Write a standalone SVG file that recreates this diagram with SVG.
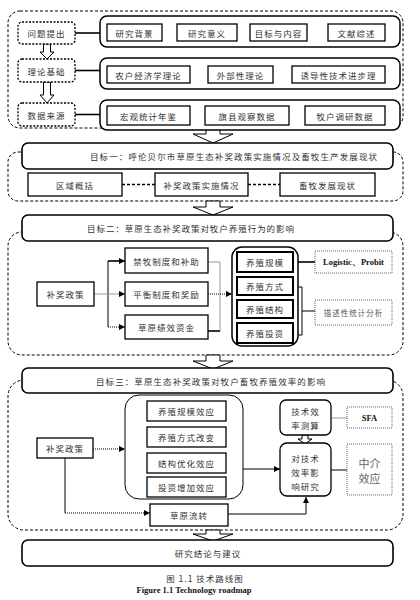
<svg xmlns="http://www.w3.org/2000/svg" width="420" height="600" viewBox="0 0 420 600">
<defs>
<style>
.t{font-family:"Noto Sans CJK SC","Noto Sans",sans-serif;font-size:8.5px;fill:#333;text-anchor:middle;dominant-baseline:central;letter-spacing:1px}
.ts{font-family:"Noto Sans CJK SC",sans-serif;font-size:8.5px;fill:#333;dominant-baseline:central;letter-spacing:1px}
.en{font-family:"Liberation Serif",serif;font-weight:bold;font-size:8.5px;fill:#111;text-anchor:middle;dominant-baseline:central}
.b{fill:#fff;stroke:#000;stroke-width:1.3}
.bt{fill:#fff;stroke:#000;stroke-width:2}
.cont{fill:#fff;stroke:#000;stroke-width:1.5}
.hdr{fill:#fff;stroke:#000;stroke-width:1.6}
.od{fill:none;stroke:#000;stroke-width:1;stroke-dasharray:3 2}
.ld{fill:#fff;stroke:#000;stroke-width:1.3;stroke-dasharray:2 1.5}
.dot{fill:#fff;stroke:#555;stroke-width:0.9;stroke-dasharray:1 1}
.ln{fill:none;stroke:#000;stroke-width:1}
.lt{fill:none;stroke:#000;stroke-width:1.6}
.lg{fill:none;stroke:#999;stroke-width:1}
.ldot{fill:none;stroke:#000;stroke-width:1;stroke-dasharray:1 1}
.ba{fill:#fff;stroke:#000;stroke-width:1}
</style>
<marker id="ah" viewBox="0 0 6 6" refX="6" refY="3" markerWidth="6" markerHeight="6" markerUnits="userSpaceOnUse" orient="auto">
<path d="M0,0 L6,3 L0,6 z" fill="#000"/>
</marker>
</defs>

<!-- Section outlines -->
<g id="sections">
<rect class="od" x="8" y="11" width="395" height="117" rx="12"/>
<rect class="od" x="8" y="152" width="395" height="49" rx="10"/>
<rect class="od" x="8" y="232" width="395" height="123" rx="14"/>
<rect class="od" x="8" y="380" width="395" height="150" rx="16"/>
</g>

<!-- Connectors -->
<g id="connectors">
<!-- section 1 -->
<line class="lt" x1="75" y1="33" x2="100" y2="33"/>
<line class="lt" x1="75" y1="70.5" x2="100" y2="70.5"/>
<line class="lt" x1="75" y1="114.5" x2="100" y2="114.5"/>
<line class="ln" x1="162" y1="32.5" x2="177" y2="32.5" marker-end="url(#ah)"/>
<line class="ln" x1="237" y1="32.5" x2="250" y2="32.5" marker-end="url(#ah)"/>
<line class="ln" x1="307" y1="32.5" x2="328" y2="32.5" marker-end="url(#ah)"/>
<line class="lt" x1="190" y1="74.5" x2="208" y2="74.5"/>
<line class="lt" x1="273" y1="74.5" x2="292" y2="74.5"/>
<line class="lt" x1="190" y1="115.5" x2="205" y2="115.5"/>
<line class="ln" x1="289" y1="115.5" x2="305" y2="115.5"/>
<!-- left block arrows -->
<polygon class="ba" points="43.5,44 50.5,44 50.5,52 54,52 47,59 40,52 43.5,52"/>
<polygon class="ba" points="43.5,82 50.5,82 50.5,95 54,95 47,103 40,95 43.5,95"/>
<!-- section 2 -->
<line x1="122" y1="184.5" x2="155" y2="184.5" stroke="#000" stroke-width="1.6" stroke-dasharray="3 2"/>
<line x1="248" y1="184.5" x2="280" y2="184.5" stroke="#000" stroke-width="1.6" stroke-dasharray="3 2"/>
<!-- section 3 -->
<line class="ln" x1="108" y1="261" x2="108" y2="327"/>
<line class="lt" x1="108" y1="261" x2="125" y2="261" marker-end="url(#ah)"/>
<line class="lg" x1="94" y1="294" x2="125" y2="294" marker-end="url(#ah)"/>
<line class="ldot" x1="108" y1="327" x2="125" y2="327" marker-end="url(#ah)"/>
<path class="lg" d="M208,262 H220 V331"/>
<line class="lt" x1="208" y1="331" x2="220" y2="331"/>
<line class="ldot" x1="208" y1="294" x2="232" y2="294" marker-end="url(#ah)"/>
<line class="lt" x1="293" y1="262" x2="315" y2="262"/>
<path class="ln" d="M294,287 H302 V335 H294 M302,311 H315" stroke-width="0.8"/>
<!-- section 4 -->
<line class="ldot" x1="93" y1="449" x2="125" y2="449" marker-end="url(#ah)"/>
<line class="ln" x1="65" y1="458" x2="65" y2="513"/>
<line class="ldot" x1="65" y1="513" x2="150" y2="513" marker-end="url(#ah)"/>
<line class="ln" x1="243" y1="469" x2="280" y2="469" marker-end="url(#ah)"/>
<path class="ln" d="M228,514 H306 V497" marker-end="url(#ah)"/>
<line class="lg" x1="331" y1="418" x2="347" y2="418"/>
<line class="ln" x1="331" y1="470" x2="347" y2="470"/>
<polygon class="ba" points="302,435 308,435 308,439 312,439 305,444 298,439 302,439"/>
<!-- section block arrows -->
<polygon class="ba" points="206,128 220,128 220,134 233,134 213,143 193,134 206,134"/>
<polygon class="ba" points="206,201 220,201 220,207 233,207 213,215 193,207 206,207"/>
<polygon class="ba" points="206,355 220,355 220,361 233,361 213,369 193,361 206,361"/>
<polygon class="ba" points="206,530 220,530 220,534 233,534 213,541 193,534 206,534"/>
</g>

<!-- Section 1 nodes -->
<g id="n-wenti"><rect class="ld" x="18" y="22" width="57" height="22" rx="4"/><text class="t" x="46.5" y="33">问题提出</text></g>
<g id="n-lilun"><rect class="ld" x="18" y="59" width="57" height="23" rx="4"/><text class="t" x="46.5" y="70.5">理论基础</text></g>
<g id="n-shuju"><rect class="ld" x="18" y="103" width="57" height="23" rx="4"/><text class="t" x="46.5" y="114.5">数据来源</text></g>
<g id="c-row1"><rect class="cont" x="100" y="16" width="300" height="31" rx="7"/></g>
<g id="c-row2"><rect class="cont" x="100" y="58" width="300" height="31" rx="7"/></g>
<g id="c-row3"><rect class="cont" x="100" y="100" width="300" height="30" rx="7"/></g>
<g id="n-beijing"><rect class="b" x="107" y="24" width="55" height="17"/><text class="t" x="134.5" y="32.5">研究背景</text></g>
<g id="n-yiyi"><rect class="b" x="177" y="24" width="60" height="17"/><text class="t" x="207" y="32.5">研究意义</text></g>
<g id="n-mubiao"><rect class="b" x="250" y="24" width="57" height="17"/><text class="t" x="278.5" y="32.5">目标与内容</text></g>
<g id="n-wenxian"><rect class="b" x="328" y="24" width="57" height="17"/><text class="t" x="356.5" y="32.5">文献综述</text></g>
<g id="n-nonghu"><rect class="b" x="107" y="66" width="83" height="17"/><text class="t" x="148.5" y="74.5">农户经济学理论</text></g>
<g id="n-waibu"><rect class="b" x="208" y="66" width="65" height="17"/><text class="t" x="240.5" y="74.5">外部性理论</text></g>
<g id="n-youdao"><rect class="b" x="292" y="66" width="93" height="17"/><text class="t" x="338.5" y="74.5">诱导性技术进步理</text></g>
<g id="n-hongguan"><rect class="b" x="107" y="106" width="83" height="19"/><text class="t" x="148.5" y="115.5">宏观统计年鉴</text></g>
<g id="n-qixian"><rect class="b" x="205" y="106" width="84" height="19"/><text class="t" x="247" y="115.5">旗县观察数据</text></g>
<g id="n-muhu"><rect class="b" x="305" y="106" width="80" height="19"/><text class="t" x="345" y="115.5">牧户调研数据</text></g>

<!-- Section 2 -->
<g id="h-goal1"><rect class="hdr" x="22" y="143" width="371" height="26" rx="6"/><text class="ts" x="90" y="156" textLength="288">目标一：呼伦贝尔市草原生态补奖政策实施情况及畜牧生产发展现状</text></g>
<g id="n-quyu"><rect class="b" x="28" y="173" width="94" height="23"/><text class="t" x="75" y="184.5">区域概括</text></g>
<g id="n-shishi"><rect class="b" x="155" y="173" width="93" height="23"/><text class="t" x="201.5" y="184.5">补奖政策实施情况</text></g>
<g id="n-xumu"><rect class="b" x="280" y="173" width="95" height="23"/><text class="t" x="327.5" y="184.5">畜牧发展现状</text></g>

<!-- Section 3 -->
<g id="h-goal2"><rect class="hdr" x="22" y="215" width="371" height="26" rx="6"/><text class="ts" x="87" y="228" textLength="208">目标二：草原生态补奖政策对牧户养殖行为的影响</text></g>
<g id="n-bujiang2"><rect class="b" x="37" y="282" width="57" height="24"/><text class="t" x="65.5" y="294">补奖政策</text></g>
<g id="n-jinmu"><rect class="b" x="125" y="248" width="83" height="25"/><text class="t" x="166.5" y="260.5">禁牧制度和补助</text></g>
<g id="n-pingheng"><rect class="b" x="125" y="282" width="83" height="24"/><text class="t" x="166.5" y="294">平衡制度和奖励</text></g>
<g id="n-jixiao"><rect class="b" x="125" y="315" width="83" height="24"/><text class="t" x="166.5" y="327">草原绩效资金</text></g>
<g id="c-yangzhi"><rect class="cont" x="232" y="247" width="66" height="99" rx="10"/></g>
<g id="n-guimo"><rect class="bt" x="237" y="252" width="56" height="20"/><text class="t" x="265" y="262">养殖规模</text></g>
<g id="n-fangshi"><rect class="bt" x="237" y="277" width="56" height="18"/><text class="t" x="265" y="286">养殖方式</text></g>
<g id="n-jiegou"><rect class="bt" x="237" y="300" width="56" height="18"/><text class="t" x="265" y="309">养殖结构</text></g>
<g id="n-touzi"><rect class="bt" x="237" y="323" width="56" height="20"/><text class="t" x="265" y="333">养殖投资</text></g>
<g id="n-logit"><rect class="dot" x="315" y="251" width="77" height="22"/><text class="en" x="353.5" y="262">Logistic、Probit</text></g>
<g id="n-miaoshu"><rect class="dot" x="315" y="300" width="77" height="25"/><text class="t" x="353.5" y="312.5" style="font-size:7.5px;fill:#555">描述性统计分析</text></g>

<!-- Section 4 -->
<g id="h-goal3"><rect class="hdr" x="22" y="368" width="371" height="25" rx="6"/><text class="ts" x="96" y="380.5" textLength="230">目标三：草原生态补奖政策对牧户畜牧养殖效率的影响</text></g>
<g id="n-bujiang3"><rect class="b" x="37" y="438" width="56" height="20"/><text class="t" x="65" y="448">补奖政策</text></g>
<g id="c-xiaoying"><rect class="ln" x="125" y="395" width="118" height="104" rx="14" fill="#fff"/></g>
<g id="n-gmxy"><rect class="b" x="147" y="401" width="79" height="20" stroke-width="1.6"/><text class="t" x="186.5" y="411">养殖规模效应</text></g>
<g id="n-fsgb"><rect class="b" x="147" y="427" width="79" height="20" stroke-width="1.6"/><text class="t" x="186.5" y="437">养殖方式改变</text></g>
<g id="n-jgyh"><rect class="b" x="147" y="453" width="79" height="20" stroke-width="1.6"/><text class="t" x="186.5" y="463">结构优化效应</text></g>
<g id="n-tzzj"><rect class="b" x="147" y="477" width="79" height="20" stroke-width="1.6"/><text class="t" x="186.5" y="487">投资增加效应</text></g>
<g id="n-liuzhuan"><rect class="b" x="150" y="504" width="78" height="22"/><text class="t" x="189" y="515">草原流转</text></g>
<g id="n-cesuan"><rect class="b" x="280" y="400" width="51" height="35" rx="6" stroke-width="1.6"/><text class="t" x="305.5" y="411">技术效</text><text class="t" x="305.5" y="425">率测算</text></g>
<g id="n-yingxiang"><rect class="b" x="280" y="443" width="51" height="53" rx="7" stroke-width="1.6"/><text class="t" x="305.5" y="458">对技术</text><text class="t" x="305.5" y="472">效率影</text><text class="t" x="305.5" y="486">响研究</text></g>
<g id="n-sfa"><rect class="dot" x="347" y="407" width="45" height="21"/><text class="en" x="369.5" y="417.5">SFA</text></g>
<g id="n-zhongjie"><rect class="dot" x="347" y="444" width="45" height="51"/><text class="t" x="369.5" y="463" style="font-size:11px;fill:#666;letter-spacing:0">中介</text><text class="t" x="369.5" y="478" style="font-size:11px;fill:#666;letter-spacing:0">效应</text></g>

<!-- Section 5 -->
<g id="n-jielun"><rect class="hdr" x="22" y="540" width="371" height="26" rx="6"/><text class="t" x="208" y="553">研究结论与建议</text></g>

<!-- Caption -->
<text x="205" y="578" style="font-family:'Noto Sans CJK SC',sans-serif;font-size:8.5px;fill:#333;text-anchor:middle;dominant-baseline:central;letter-spacing:1px">图 1.1 技术路线图</text>
<text x="194" y="590" style="font-family:'Liberation Serif',serif;font-weight:bold;font-size:8.5px;fill:#111;text-anchor:middle;dominant-baseline:central">Figure 1.1 Technology roadmap</text>
</svg>
